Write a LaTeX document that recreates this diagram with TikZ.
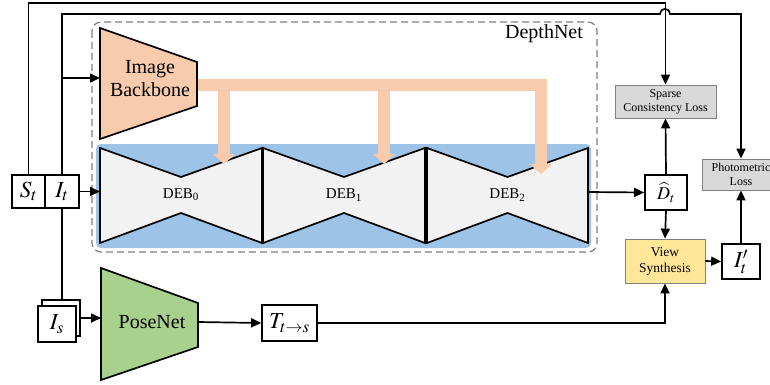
\documentclass[tikz,border=0pt]{standalone}
\usepackage{mathptmx}
\usepackage{fontspec}
\setmainfont{Liberation Serif}
\usetikzlibrary{arrows.meta}
\definecolor{orangeF}{HTML}{F8CBAD}
\definecolor{blueF}{HTML}{9DC3E6}
\definecolor{greenF}{HTML}{A9D18E}
\definecolor{yellowF}{HTML}{FFE699}
\definecolor{grayF}{HTML}{D9D9D9}
\definecolor{debF}{HTML}{F2F2F2}
\definecolor{dashC}{HTML}{808080}
\begin{document}
\begin{tikzpicture}[x=1pt,y={(0pt,-1pt)},
  ln/.style={line width=1.7pt},
  arr/.style={ln,-{Triangle[length=10pt,width=9pt]}},
  farr/.style={line width=12pt,draw=orangeF,-{Triangle[length=10pt,width=22pt]}},
  mbox/.style={draw,ln,fill=white,inner sep=0pt,font=\fontsize{23}{25}\selectfont},
  lossbox/.style={draw=gray,line width=0.8pt,fill=grayF,inner sep=0pt,align=center,font=\fontsize{12}{14}\selectfont},
  debblock/.style={draw,ln,fill=debF,line join=miter},
  trap/.style={draw,ln,line join=miter},
  lbl/.style={inner sep=0pt,align=center}
]
\useasboundingbox (0,0) rectangle (770,385);
\clip (0,0) rectangle (770,385);

% DepthNet frame
\draw[dashC,line width=1.2pt,dash pattern=on 7pt off 4pt,rounded corners=9pt] (92,22) rectangle (597,252);
\node[lbl,font=\fontsize{20}{22}\selectfont] (dlabel) at (544,34) {DepthNet};

% blue background
\fill[blueF,rounded corners=5pt] (96,144) rectangle (591,248);

% DEB blocks
\draw[debblock] (100,148)--(181,177)--(262,148)--(262,243)--(181,213)--(100,243)--cycle;
\draw[debblock] (263,148)--(344,177)--(425,148)--(425,243)--(344,213)--(263,243)--cycle;
\draw[debblock] (427,148)--(507.5,177)--(588,148)--(588,243)--(507.5,213)--(427,243)--cycle;
\node[lbl,font=\fontsize{15}{17}\selectfont] (deb0) at (181,195) {DEB\textsubscript{0}};
\node[lbl,font=\fontsize{15}{17}\selectfont] (deb1) at (344,195) {DEB\textsubscript{1}};
\node[lbl,font=\fontsize{15}{17}\selectfont] (deb2) at (507.5,195) {DEB\textsubscript{2}};
\coordinate (deb0w) at (100,191.5);
\coordinate (deb2e) at (588,192);

% orange feature arrows
\coordinate (fstart) at (196,85);
\coordinate (f0) at (224,85);
\coordinate (f1) at (384,85);
\coordinate (f2) at (541,85);
\draw[line width=12pt,draw=orangeF] (fstart) -- ([xshift=6pt]f2);
\draw[farr] ([yshift=-1pt]f0) -- ++(0,78);
\draw[farr] ([yshift=-1pt]f1) -- ++(0,78);
\draw[farr] ([yshift=-6pt]f2) -- ++(0,83);

% Image backbone
\draw[trap,fill=orangeF] (100,28) -- (197,62) -- (197,106) -- (100,139) -- cycle;
\node[lbl,font=\fontsize{20}{23}\selectfont] (ib) at (150,79) {Image\\Backbone};
\coordinate (ibw) at (100,78);

% PoseNet
\draw[trap,fill=greenF] (101,268) -- (198,303) -- (198,347) -- (101,380) -- cycle;
\node[lbl,font=\fontsize{20}{22}\selectfont] (pn) at (152,322) {PoseNet};
\coordinate (pnw) at (101,318);
\coordinate (pne) at (198,322);

% input boxes
\node[mbox,minimum width=33pt,minimum height=33pt] (st) at (28.5,191.5) {$S_t$};
\node[mbox,minimum width=34pt,minimum height=33pt] (it) at (62,191.5) {$I_t$};
\node[mbox,minimum width=38pt,minimum height=36pt] (isb) at (61,318) {};
\node[mbox,minimum width=38pt,minimum height=36pt] (is) at (57,324) {$I_s$};
\node[mbox,minimum width=55pt,minimum height=36pt] (tts) at (289.5,323) {$T_{t\rightarrow s}$};

% right side
\node[mbox,minimum width=42pt,minimum height=35pt,font=\fontsize{18}{20}\selectfont] (dt) at (666,192.5) {$\widehat{D}_t$};
\node[lossbox,minimum width=101pt,minimum height=33pt] (sparse) at (665.5,101.5) {Sparse\\Consistency Loss};
\node[lossbox,minimum width=78pt,minimum height=31pt] (photo) at (741,174.5) {Photometric\\Loss};
\node[draw=gray,line width=0.8pt,fill=yellowF,inner sep=0pt,align=center,font=\fontsize{13.5}{16}\selectfont,minimum width=80pt,minimum height=44pt] (view) at (665,261) {View\\Synthesis};
\node[mbox,minimum width=38pt,minimum height=35pt] (ip) at (741,261.5) {$I_t^{\prime}$};

% connectors
\coordinate (itb) at (62,78);
\draw[arr] (st.north) -- (st.north |- 0,3) -- (sparse.north |- 0,3) -- (sparse.north);
\draw[ln] (it.north) -- (it.north |- 0,14) -- (660,14) .. controls (661.5,7) and (668.5,7) .. (670,14) -- (photo.north |- 0,14);
\draw[arr] (photo.north |- 0,13.2) -- (photo.north);
\draw[arr] (itb) -- (ibw);
\draw[arr] (it.east) -- (deb0w);
\draw[ln] (it.south) -- (it.south |- isb.north);
\draw[arr] (isb.east) -- (pnw);
\draw[arr] (pne) -- (tts.west);
\draw[arr] (tts.east) -- (view.south |- tts.east) -- (view.south);
\draw[arr] (deb2e) -- (dt.west);
\draw[arr] (dt.north) -- (sparse.south);
\draw[arr] (dt.south) -- (view.north);
\draw[arr] (view.east) -- (ip.west);
\draw[arr] (ip.north) -- (photo.south);
\end{tikzpicture}
\end{document}
